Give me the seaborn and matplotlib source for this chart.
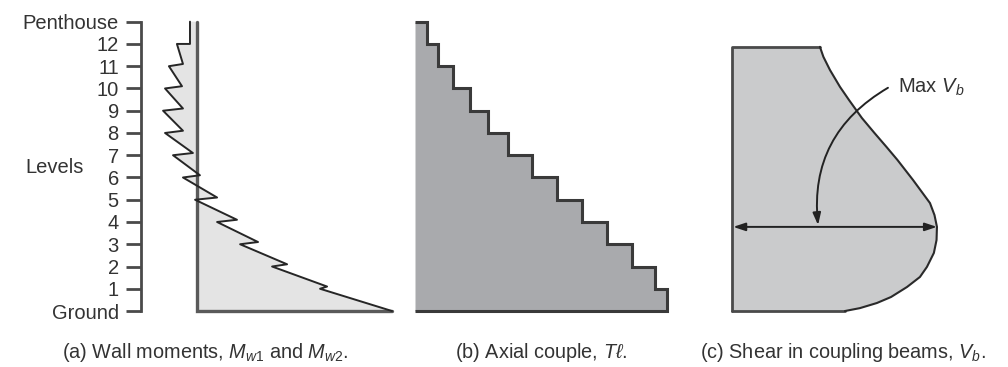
import matplotlib
matplotlib.use("Agg")
import matplotlib.pyplot as plt
import seaborn as sns
import numpy as np

# ---------------- data ----------------
level_values = list(range(14))
level_labels = ["Ground", "1", "2", "3", "4", "5", "6", "7", "8", "9", "10", "11", "12", "Penthouse"]

# (a) wall moments (% of base moment); floors listed from 12 down to 1
penthouse_moment = -3.6
floors = [12, 11, 10, 9, 8, 7, 6, 5, 4, 3, 2, 1]
moment_above_floor = [-3.6, -7.2, -7.7, -7.2, -7.2, -2.1, 1.5, 10.3, 20.5, 31.3, 46.2, 66.7]
moment_below_floor = [-10.3, -14.4, -16.4, -17.4, -16.4, -12.3, -7.2, -1.0, 10.3, 22.1, 38.5, 63.1]
ground_moment = 100.0

# (b) axial couple per storey (% of base), storeys from ground upward
axial_couple = [100.0, 95.2, 86.1, 76.2, 66.3, 56.3, 46.4, 36.9, 29.0, 21.8, 15.1, 9.1, 4.8]

# (c) shear in coupling beams (% of max) vs level
shear_levels = [11.87, 11.42, 10.83, 10.07, 9.48, 8.67, 8.00, 7.37, 6.79, 5.89, 4.85, 4.31,
                3.78, 3.19, 2.61, 1.98, 1.53, 1.08, 0.63, 0.36, 0.13, 0.0]
shear_values = [42.9, 44.6, 47.8, 52.7, 57.1, 63.4, 69.5, 75.4, 80.7, 88.3, 96.6, 98.8,
                100.0, 99.8, 98.5, 95.1, 91.7, 85.4, 77.6, 70.7, 62.4, 55.1]

captions = ["(a) Wall moments, $M_{w1}$ and $M_{w2}$.",
            "(b) Axial couple, $T\\ell$.",
            "(c) Shear in coupling beams, $V_b$."]

# ---------------- style ----------------
sns.set_theme(style="ticks")
plt.rcParams["font.family"] = ["Liberation Sans", "DejaVu Sans"]
plt.rcParams["mathtext.fontset"] = "custom"
plt.rcParams["mathtext.rm"] = "Liberation Sans"
plt.rcParams["mathtext.it"] = "Liberation Sans:italic"
plt.rcParams["mathtext.bf"] = "Liberation Sans:bold"

W, H = 1008, 367
fig = plt.figure(figsize=(W / 100, H / 100), dpi=100)
fig.patch.set_facecolor("white")

TOP_PX, BOT_PX = 15.0, 317.7
YLIM = (-0.3, 13.3)


def rect(l, r):
    return [l / W, 1 - BOT_PX / H, (r - l) / W, (BOT_PX - TOP_PX) / H]


text_col = "#333333"
edge_col = "#3a3a3a"

# ---------------- panel (a) ----------------
axa = fig.add_axes(rect(141, 400))
axa.set_xlim(-28.72, 104.1)
axa.set_ylim(*YLIM)

jump_rise = 0.1
xs = [penthouse_moment]
ys = [level_values[-1]]
for i, (f, above, below) in enumerate(zip(floors, moment_above_floor, moment_below_floor)):
    rise = 0.0 if i == 0 else jump_rise
    xs += [above, below]
    ys += [f + rise, f]
xs.append(ground_moment)
ys.append(level_values[0])

axa.fill(xs + [0, 0], ys + [level_values[0], level_values[-1]], color="#e4e4e4", lw=0, zorder=1)
sns.lineplot(x=xs, y=ys, sort=False, estimator=None, color="#262626", lw=1.4, ax=axa, zorder=3)
axa.plot([0, 0, ground_moment], [level_values[-1], level_values[0], level_values[0]],
         color="#5a5a5a", lw=2.4, solid_joinstyle="miter", zorder=2)

axa.set_yticks(level_values)
axa.set_yticklabels(level_labels)
axa.set_xticks([])
sns.despine(ax=axa, bottom=True, right=True, top=True)
axa.spines["left"].set_bounds(level_values[0], level_values[-1])
axa.spines["left"].set_color("#4a4a4a")
axa.spines["left"].set_linewidth(2)
axa.tick_params(axis="y", length=11, width=2, color="#4a4a4a", pad=5,
                labelsize=14.5, labelcolor=text_col)
axa.set_ylabel("Levels", rotation=0, fontsize=14.5, color=text_col, va="center", ha="center")
axa.yaxis.set_label_coords((55 - 141) / 259, (6.45 - YLIM[0]) / (YLIM[1] - YLIM[0]))
axa.patch.set_alpha(0)

# ---------------- panel (b) ----------------
axb = fig.add_axes(rect(405, 680))
axb.set_xlim(-3.97, 105.16)
axb.set_ylim(*YLIM)
axb.stairs(axial_couple, edges=level_values, orientation="horizontal", baseline=0,
           fill=True, facecolor="#a9aaad", edgecolor=edge_col, lw=2.2)
axb.set_axis_off()

# ---------------- panel (c) ----------------
axc = fig.add_axes(rect(720, 1005))
axc.set_xlim(-5.85, 133.2)
axc.set_ylim(*YLIM)
top_lvl = shear_levels[0]
px = [0] + shear_values + [0]
py = [top_lvl] + shear_levels + [0]
axc.fill(px, py, color="#cacbcc", lw=0, zorder=1)
axc.plot([0, 0, shear_values[0]], [0, top_lvl, top_lvl], color="#4a4a4a", lw=2, zorder=2)
axc.plot([0, shear_values[-1]], [0, 0], color="#4a4a4a", lw=2, zorder=2)
sns.lineplot(x=shear_values, y=shear_levels, sort=False, estimator=None,
             color="#2a2a2a", lw=1.5, ax=axc, zorder=3)

imax = int(np.argmax(shear_values))
vmax, lmax = shear_values[imax], shear_levels[imax]
axc.annotate("", xy=(vmax, lmax), xytext=(0.6, lmax),
             arrowprops=dict(arrowstyle="<|-|>,head_length=0.6,head_width=0.2",
                             color="#222222", lw=1.4, shrinkA=0, shrinkB=0), zorder=4)
axc.annotate("", xy=(42.0, lmax + 0.08), xytext=(76.1, 10.03),
             arrowprops=dict(arrowstyle="-|>,head_length=0.6,head_width=0.2",
                             color="#222222", lw=1.4, shrinkA=0, shrinkB=0,
                             connectionstyle="arc3,rad=0.32"), zorder=4)
axc.text(81.0, 10.07, "Max $V_b$", fontsize=14.5, color=text_col, ha="left", va="center")
axc.set_axis_off()

# ---------------- captions ----------------
for x0, cap in zip([62, 455, 700], captions):
    fig.text(x0 / W, 1 - 352 / H, cap, fontsize=14.3, color=text_col, ha="left", va="center")

fig.savefig("out.png", dpi=100, facecolor="white")
